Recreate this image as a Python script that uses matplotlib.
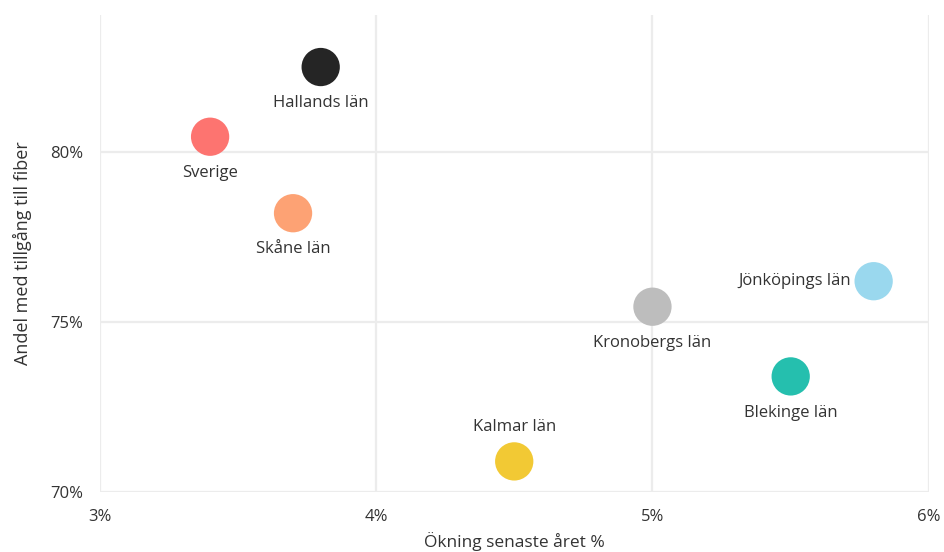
import matplotlib
matplotlib.use("Agg")
import matplotlib.pyplot as plt
from matplotlib.ticker import FuncFormatter

names = ["Hallands län", "Sverige", "Skåne län", "Jönköpings län",
         "Kronobergs län", "Blekinge län", "Kalmar län"]
okning = [3.80, 3.40, 3.70, 5.80, 5.00, 5.50, 4.50]
andel = [82.5, 80.45, 78.2, 76.2, 75.45, 73.4, 70.9]
colors = ["#252525", "#FD7470", "#FDA274", "#9AD8EE", "#BDBDBD", "#25BFAE", "#F2C934"]
label_pos = ["below", "below", "below", "left", "below", "below", "above"]
x_ticks = [3, 4, 5, 6]
y_ticks = [70, 75, 80]

plt.rcParams['font.family'] = ['Open Sans', 'DejaVu Sans']

fig = plt.figure(figsize=(9.45, 5.52), dpi=100)
ax = fig.add_axes([0.1053, 0.1087, 0.983 - 0.1053, 0.9728 - 0.1087])
ax.set_xlim(3, 6)
ax.set_ylim(70, 84.03)

for s in ax.spines.values():
    s.set_visible(False)
ax.set_xticks(x_ticks)
ax.set_yticks(y_ticks)
ax.grid(True, color="#ececec", linewidth=1.6)
ax.set_axisbelow(True)
ax.tick_params(length=0, labelsize=12, labelcolor="#333333")
ax.tick_params(axis="x", pad=12)
ax.tick_params(axis="y", pad=12)
ax.xaxis.set_major_formatter(FuncFormatter(lambda v, p: f"{v:.0f}%"))
ax.yaxis.set_major_formatter(FuncFormatter(lambda v, p: f"{v:.0f}%"))

ax.scatter(okning, andel, s=760, c=colors, edgecolors="none", zorder=3, clip_on=False)

for n, x, y, pos in zip(names, okning, andel, label_pos):
    if pos == "below":
        ax.annotate(n, (x, y), xytext=(0, -26), textcoords="offset points",
                    ha="center", va="center", fontsize=12, color="#333333")
    elif pos == "above":
        ax.annotate(n, (x, y), xytext=(0, 25), textcoords="offset points",
                    ha="center", va="center", fontsize=12, color="#333333")
    else:
        ax.annotate(n, (x, y), xytext=(-16, 0), textcoords="offset points",
                    ha="right", va="center", fontsize=12, color="#333333")

ax.set_xlabel("Ökning senaste året %", fontsize=12.5, color="#333333", labelpad=5)
ax.set_ylabel("Andel med tillgång till fiber", fontsize=13, color="#333333", labelpad=13)

fig.savefig("out.png", dpi=100)
